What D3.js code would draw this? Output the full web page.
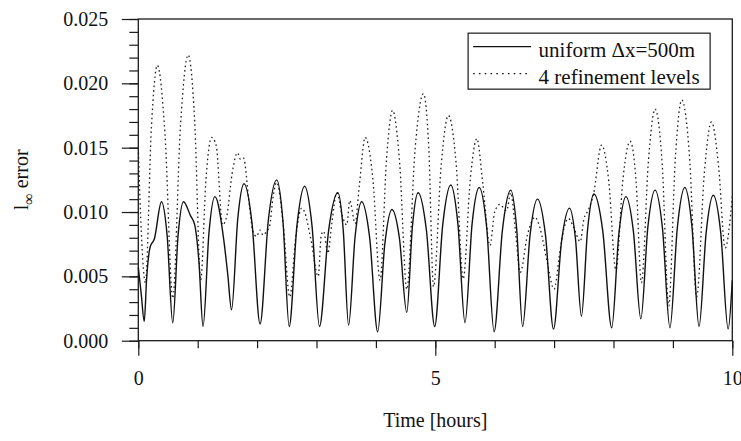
<!DOCTYPE html>
<html>
<head>
<meta charset="utf-8">
<script src="https://cdn.jsdelivr.net/npm/d3@7"></script>
<style>
  body { margin: 0; background: #fff; }
  svg text { font-family: 'Liberation Serif', 'Times New Roman', serif; fill: #111; }
</style>
</head>
<body>
<svg id="chart"></svg>
<script>
// [hours, error]
const uniformSeries = [
  [0, 0.0057], [0.05, 0.0036], [0.10, 0.0015], [0.14, 0.0048], [0.20, 0.0073], [0.27, 0.0079],
  [0.39, 0.0108], [0.485, 0.0082], [0.58, 0.0014], [0.67, 0.0082], [0.76, 0.0108], [0.88, 0.0097],
  [0.95, 0.0090], [1.02, 0.0062], [1.09, 0.0011], [1.19, 0.0084], [1.29, 0.0112], [1.44, 0.0078],
  [1.505, 0.0052], [1.57, 0.0024], [1.675, 0.0095], [1.78, 0.0122], [1.915, 0.0091], [2.05, 0.0013],
  [2.19, 0.0094], [2.33, 0.0125], [2.435, 0.0093], [2.54, 0.0011], [2.67, 0.0089], [2.80, 0.0120],
  [2.925, 0.0089], [3.05, 0.0011], [3.205, 0.0086], [3.36, 0.0115], [3.45, 0.0086], [3.54, 0.0012],
  [3.65, 0.0081], [3.76, 0.0108], [3.895, 0.0080], [4.03, 0.0007], [4.15, 0.0075], [4.27, 0.0102],
  [4.395, 0.0080], [4.52, 0.0022], [4.615, 0.0089], [4.71, 0.0115], [4.85, 0.0086], [4.99, 0.0011],
  [5.125, 0.0090], [5.26, 0.0121], [5.38, 0.0091], [5.50, 0.0014], [5.62, 0.0091], [5.74, 0.0119],
  [5.865, 0.0088], [5.99, 0.0007], [6.13, 0.0086], [6.27, 0.0117], [6.37, 0.0087], [6.47, 0.0011],
  [6.595, 0.0082], [6.72, 0.0110], [6.855, 0.0082], [6.99, 0.0009], [7.125, 0.0077], [7.26, 0.0103],
  [7.36, 0.0079], [7.46, 0.0019], [7.565, 0.0087], [7.67, 0.0114], [7.82, 0.0085], [7.97, 0.0010],
  [8.09, 0.0083], [8.21, 0.0112], [8.335, 0.0085], [8.46, 0.0017], [8.58, 0.0089], [8.70, 0.0117],
  [8.825, 0.0087], [8.95, 0.0010], [9.075, 0.0088], [9.20, 0.0119], [9.32, 0.0089], [9.44, 0.0011],
  [9.56, 0.0084], [9.68, 0.0113], [9.805, 0.0084], [9.93, 0.0009], [10.0, 0.0047]
];

const refinedSeries = [
  [0, 0.0150], [0.05, 0.0085], [0.12, 0.0045], [0.22, 0.0165], [0.32, 0.0214], [0.45, 0.0160],
  [0.58, 0.0033], [0.71, 0.0167], [0.84, 0.0222], [0.95, 0.0170], [1.05, 0.0047], [1.14, 0.0126],
  [1.235, 0.0158], [1.31, 0.0152], [1.42, 0.0090], [1.49, 0.0097], [1.58, 0.0130], [1.67, 0.0146],
  [1.72, 0.0141], [1.77, 0.0142], [1.87, 0.0105], [1.93, 0.0085], [1.99, 0.0081], [2.05, 0.0086],
  [2.10, 0.0082], [2.16, 0.0085], [2.21, 0.0089], [2.27, 0.0112], [2.33, 0.0123], [2.44, 0.0090],
  [2.55, 0.0034], [2.65, 0.0080], [2.75, 0.0103], [2.80, 0.0100], [2.90, 0.0080], [3.03, 0.0050],
  [3.08, 0.0082], [3.12, 0.0085], [3.19, 0.0068], [3.26, 0.0092], [3.34, 0.0115], [3.44, 0.0096],
  [3.51, 0.0090], [3.56, 0.0109], [3.65, 0.0091], [3.72, 0.0120], [3.82, 0.0158], [3.95, 0.0125],
  [4.07, 0.0047], [4.18, 0.0142], [4.28, 0.0179], [4.40, 0.0138], [4.52, 0.0040], [4.66, 0.0149],
  [4.80, 0.0192], [4.89, 0.0150], [4.97, 0.0042], [5.10, 0.0137], [5.22, 0.0175], [5.35, 0.0138],
  [5.47, 0.0048], [5.59, 0.0126], [5.70, 0.0157], [5.80, 0.0122], [5.92, 0.0074], [6.00, 0.0100],
  [6.09, 0.0106], [6.15, 0.0103], [6.20, 0.0101], [6.27, 0.0115], [6.35, 0.0085], [6.43, 0.0053],
  [6.55, 0.0082], [6.68, 0.0096], [6.76, 0.0088], [6.88, 0.0062], [7.00, 0.0040], [7.10, 0.0070],
  [7.17, 0.0088], [7.24, 0.0095], [7.33, 0.0088], [7.44, 0.0077], [7.50, 0.0094], [7.58, 0.0102],
  [7.66, 0.0113], [7.80, 0.0152], [7.92, 0.0124], [8.04, 0.0055], [8.16, 0.0126], [8.28, 0.0155],
  [8.38, 0.0124], [8.47, 0.0045], [8.59, 0.0141], [8.70, 0.0180], [8.82, 0.0137], [8.93, 0.0027],
  [9.04, 0.0141], [9.15, 0.0187], [9.28, 0.0143], [9.40, 0.0034], [9.53, 0.0131], [9.65, 0.0170],
  [9.77, 0.0135], [9.88, 0.0072], [10.0, 0.0112]
];

const seriesNames = ['uniform \u0394x=500m', '4 refinement levels'];
const xMajorTicks = [0, 5, 10];
const xMinorTicks = [0, 1, 2, 3, 4, 5, 6, 7, 8, 9, 10];
const yMajorTicks = [0, 0.005, 0.010, 0.015, 0.020, 0.025];

const W = 741, H = 441;
const margin = { top: 19, right: 8.7, bottom: 100.3, left: 138.3 };
const width = W - margin.left - margin.right;
const height = H - margin.top - margin.bottom;

const svg = d3.select('#chart')
  .attr('width', W)
  .attr('height', H);

const g = svg.append('g')
  .attr('transform', `translate(${margin.left},${margin.top})`);

const x = d3.scaleLinear().domain([0, 10]).range([0, width]);
const y = d3.scaleLinear().domain([0, 0.025]).range([height, 0]);

const axisColor = '#1a1a1a';

// y axis: minor then major ticks, pointing out to the left
g.append('g')
  .call(d3.axisLeft(y).ticks(25).tickSize(9).tickFormat(''))
  .call(a => a.select('.domain').remove());

g.append('g')
  .call(d3.axisLeft(y).tickValues(yMajorTicks).tickSize(16.5).tickPadding(13.5).tickFormat(d3.format('.3f')))
  .call(a => a.select('.domain').remove())
  .call(a => a.selectAll('text').style('font-size', '20px'));

// x axis ticks hang below
g.append('g')
  .attr('transform', `translate(0,${height})`)
  .call(d3.axisBottom(x).tickValues(xMinorTicks).tickSize(7.5).tickFormat(''))
  .call(a => a.select('.domain').remove());

g.append('g')
  .attr('transform', `translate(0,${height})`)
  .call(d3.axisBottom(x).tickValues(xMajorTicks).tickSize(15).tickPadding(15).tickFormat(d3.format('d')))
  .call(a => a.select('.domain').remove())
  .call(a => a.selectAll('text').style('font-size', '20px'));

g.selectAll('.tick line').attr('stroke', axisColor).attr('stroke-width', 1.2);

// frame
g.append('rect')
  .attr('x', 0)
  .attr('y', 0)
  .attr('width', width)
  .attr('height', height)
  .attr('fill', 'none')
  .attr('stroke', axisColor)
  .attr('stroke-width', 1.3);

// Lines
const line = d3.line()
  .x(d => x(d[0]))
  .y(d => y(d[1]))
  .curve(d3.curveMonotoneX);

g.append('path')
  .datum(refinedSeries)
  .attr('fill', 'none')
  .attr('stroke', '#222')
  .attr('stroke-width', 1.3)
  .attr('stroke-dasharray', '1.6,3')
  .attr('d', line);

g.append('path')
  .datum(uniformSeries)
  .attr('fill', 'none')
  .attr('stroke', '#111')
  .attr('stroke-width', 1.4)
  .attr('d', line);

// Legend
const legend = g.append('g')
  .attr('transform', `translate(${x(5.5525)},${y(0.0239)})`);

legend.append('rect')
  .attr('width', 242)
  .attr('height', 56)
  .attr('fill', '#fff')
  .attr('stroke', axisColor)
  .attr('stroke-width', 1.2);

seriesNames.forEach((name, i) => {
  const row = legend.append('g').attr('transform', `translate(0,${13.5 + i * 27})`);
  row.append('line')
    .attr('x1', 5)
    .attr('x2', 63)
    .attr('stroke', '#111')
    .attr('stroke-width', i === 0 ? 1.3 : 1.2)
    .attr('stroke-dasharray', i === 0 ? null : '1.6,4.2');
  row.append('text')
    .attr('x', 70.5)
    .attr('y', 10)
    .style('font-size', '21px')
    .text(name);
});

// Axis titles
svg.append('text')
  .attr('x', margin.left + width / 2)
  .attr('y', 427)
  .attr('text-anchor', 'middle')
  .style('font-size', '20px')
  .text('Time [hours]');

const ylab = svg.append('text')
  .attr('transform', `translate(28,${margin.top + height / 2}) rotate(-90)`)
  .attr('text-anchor', 'middle')
  .style('font-size', '20px');
ylab.append('tspan').text('l');
ylab.append('tspan').attr('dy', 6).style('font-size', '16px').text('\u221e');
ylab.append('tspan').attr('dy', -6).text(' error');
</script>
</body>
</html>
